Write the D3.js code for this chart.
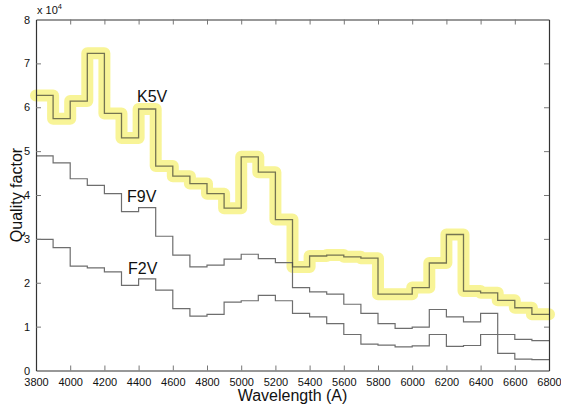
<!DOCTYPE html>
<html>
<head>
<meta charset="utf-8">
<script src="https://cdn.jsdelivr.net/npm/d3@7"></script>
<style>
  html, body { margin: 0; padding: 0; background: #fff; }
  svg { display: block; }
  text { font-family: "Liberation Sans", Arial, Helvetica, sans-serif; fill: #111; }
</style>
</head>
<body>
<svg id="chart" width="561" height="411"></svg>
<script>
// Bin start wavelengths (Å), each bin 100 Å wide
const wavelengths = [3800,3900,4000,4100,4200,4300,4400,4500,4600,4700,
                     4800,4900,5000,5100,5200,5300,5400,5500,5600,5700,
                     5800,5900,6000,6100,6200,6300,6400,6500,6600,6700];
const binEnd = 6800;

// Quality factor per bin
const k5v = [62700,57400,61400,72300,58600,53000,59600,46600,44300,42600,
             40300,37000,48700,45200,34400,23600,26100,26300,25900,25600,
             17400,17400,18900,24500,31000,18100,17700,16000,14300,12800];
const f9v = [48900,47300,43700,42200,40300,36200,37100,30600,26300,23600,
             24000,25400,26500,25500,24600,18900,17900,17400,15100,13000,
             10700,9600,9900,13900,12200,11100,13000,3900,2600,2500];
const f2v = [29900,28000,23800,23400,22500,19400,20900,18300,14100,12400,
             12800,15600,15900,17100,15900,13000,12200,10700,8200,6000,
             5800,5400,5600,8200,5500,5700,8200,8200,7100,6800];

const seriesNames = ["K5V", "F9V", "F2V"];
const xTicks = [3800,4000,4200,4400,4600,4800,5000,5200,5400,5600,5800,6000,6200,6400,6600,6800];
const yTicks = [0,10000,20000,30000,40000,50000,60000,70000,80000];

const svg = d3.select("#chart");
const margin = {left: 36, top: 19.5, right: 12, bottom: 40.5};
const W = 561 - margin.left - margin.right;
const H = 411 - margin.top - margin.bottom;

const x = d3.scaleLinear().domain([3800, 6800]).range([0, W]);
const y = d3.scaleLinear().domain([0, 80000]).range([H, 0]);

const g = svg.append("g").attr("transform", `translate(${margin.left},${margin.top})`);

function pts(vals) {
  const p = wavelengths.map((w, i) => [w, vals[i]]);
  p.push([binEnd, vals[vals.length - 1]]);
  return p;
}
const line = d3.line().x(d => x(d[0])).y(d => y(d[1])).curve(d3.curveStepAfter);

// blur filter for highlight
const defs = svg.append("defs");
defs.append("filter").attr("id", "soft").append("feGaussianBlur").attr("stdDeviation", 0.7);

// yellow highlight under K5V
g.append("path")
  .attr("d", line(pts(k5v)))
  .attr("fill", "none")
  .attr("stroke", "#f3ee55")
  .attr("stroke-opacity", 0.62)
  .attr("stroke-width", 12)
  .attr("stroke-linejoin", "round")
  .attr("stroke-linecap", "round")
  .attr("filter", "url(#soft)");

// data lines
[f2v, f9v].forEach(vals => {
  g.append("path")
    .attr("d", line(pts(vals)))
    .attr("fill", "none")
    .attr("stroke", "#6e6e6e")
    .attr("stroke-width", 1.2);
});
g.append("path")
  .attr("d", line(pts(k5v)))
  .attr("fill", "none")
  .attr("stroke", "#4a4a3a")
  .attr("stroke-opacity", 0.75)
  .attr("stroke-width", 1.3);

// axes (ticks inward)
const tickLen = 5;
const xBottom = d3.axisBottom(x).tickValues(xTicks).tickSizeInner(-tickLen).tickSizeOuter(0).tickPadding(8)
  .tickFormat(d3.format("d"));
const xTop = d3.axisTop(x).tickValues(xTicks.slice(1, -1)).tickSizeInner(-tickLen).tickSizeOuter(0).tickFormat("");
const yLeft = d3.axisLeft(y).tickValues(yTicks).tickSizeInner(-tickLen).tickSizeOuter(0).tickPadding(6)
  .tickFormat(d => d / 10000);
const yRight = d3.axisRight(y).tickValues(yTicks.slice(1, -1)).tickSizeInner(-tickLen).tickSizeOuter(0).tickFormat("");

const gxB = g.append("g").attr("transform", `translate(0,${H})`).call(xBottom);
const gxT = g.append("g").call(xTop);
const gyL = g.append("g").call(yLeft);
const gyR = g.append("g").attr("transform", `translate(${W},0)`).call(yRight);

[gxB, gxT, gyL, gyR].forEach(a => {
  a.select(".domain").attr("stroke", "#333").attr("stroke-width", 1.2);
  a.selectAll(".tick line").attr("stroke", "#777").attr("stroke-width", 1);
  a.selectAll(".tick text").attr("font-size", 11).attr("fill", "#111")
    .attr("font-family", "'Liberation Sans', Arial, sans-serif");
});
gxB.selectAll(".tick text").attr("dy", "0.71em");
// hide first/last ticks lines on bottom/left (corners)
gxB.selectAll(".tick line").filter(d => d === 3800 || d === 6800).attr("stroke", "none");
gyL.selectAll(".tick line").filter(d => d === 0 || d === 80000).attr("stroke", "none");

// exponent label
const ex = svg.append("text").attr("x", margin.left + 1).attr("y", 14).attr("font-size", 11);
ex.append("tspan").text("x 10");
ex.append("tspan").attr("font-size", 7.5).attr("dy", -5).text("4");

// series labels
const labelPos = {"K5V": [137, 101.5], "F9V": [127, 201.5], "F2V": [128, 274]};
seriesNames.forEach(n => {
  svg.append("text").attr("x", labelPos[n][0]).attr("y", labelPos[n][1])
    .attr("font-size", 16).text(n);
});

// axis titles
svg.append("text")
  .attr("x", margin.left + W / 2).attr("y", 401)
  .attr("text-anchor", "middle").attr("font-size", 16)
  .text("Wavelength (A)");
svg.append("text")
  .attr("transform", `translate(21.5,${margin.top + H / 2}) rotate(-90)`)
  .attr("text-anchor", "middle").attr("font-size", 16)
  .text("Quality factor");
</script>
</body>
</html>
